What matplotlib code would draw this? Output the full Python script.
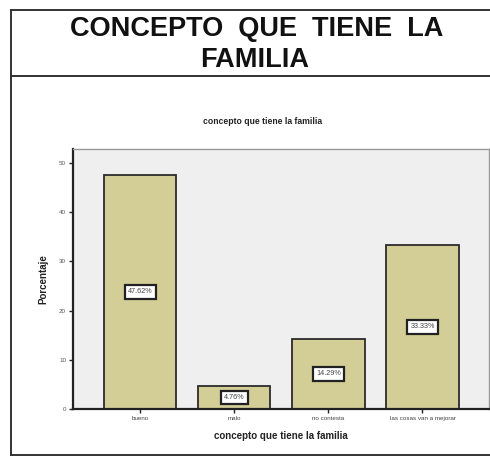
import matplotlib
matplotlib.use("Agg")
import matplotlib.pyplot as plt
from matplotlib.lines import Line2D

categories = ["bueno", "malo", "no contesta", "las cosas van a mejorar"]
percentages = [47.62, 4.76, 14.29, 33.33]
bar_labels = ["47.62%", "4.76%", "14.29%", "33.33%"]
y_ticks = [0, 10, 20, 30, 40, 50]

BAR, EDGE, PLOT_BG = "#d3cd96", "#2b2b2b", "#efefef"

plt.rcParams["font.family"] = ["Liberation Sans", "DejaVu Sans"]

fig = plt.figure(figsize=(4.9, 4.57), dpi=100)
fig.patch.set_facecolor("white")

# outer frame + title divider
L, T, B = 11 / 490, 1 - 10 / 457, 1 - 455 / 457
D = 1 - 76 / 457
for xs, ys in [([L, 1.0], [T, T]), ([L, L], [B, T]), ([L, 1.0], [B, B]), ([L, 1.0], [D, D])]:
    fig.add_artist(Line2D(xs, ys, color="#333333", lw=1.4, transform=fig.transFigure))

# wide word spacing as in the original document heading
fig.text(0.524, 1 - 29 / 457, "CONCEPTO  QUE  TIENE  LA", ha="center", va="center",
         fontsize=19.5, fontweight="bold", color="#111111")
fig.text(0.520, 1 - 60 / 457, "FAMILIA", ha="center", va="center",
         fontsize=19.5, fontweight="bold", color="#111111")
fig.text(0.535, 1 - 122 / 457, "concepto que tiene la familia", ha="center", va="center",
         fontsize=6.2, fontweight="bold", color="#222222")

ax = fig.add_axes([73 / 490, 48 / 457, 416 / 490, 260 / 457])
ax.set_facecolor(PLOT_BG)
x = list(range(len(categories)))
bars = ax.bar(x, percentages, width=0.77, color=BAR, edgecolor=EDGE, linewidth=1.3, zorder=2)
for bar, lab in zip(bars, bar_labels):
    ax.text(bar.get_x() + bar.get_width() / 2, bar.get_height() / 2, lab, ha="center", va="center",
            fontsize=5.2, color="#444444", zorder=3,
            bbox=dict(boxstyle="square,pad=0.45", facecolor="white", edgecolor="#222222", linewidth=1.6))

ax.set_xlim(-0.713, 3.707)
ax.set_ylim(0, 52.8)
ax.set_xticks(x)
ax.set_xticklabels(categories, fontsize=4.5, color="#444444")
ax.set_yticks(y_ticks)
ax.set_yticklabels([str(v) for v in y_ticks], fontsize=4.5, color="#555555")
ax.tick_params(axis="both", length=3, width=1, color="#222222", pad=2)
for s in ["top", "right"]:
    ax.spines[s].set_color("#999999")
    ax.spines[s].set_linewidth(1.0)
for s in ["left", "bottom"]:
    ax.spines[s].set_color("#222222")
    ax.spines[s].set_linewidth(1.6)

ax.set_xlabel("concepto que tiene la familia", fontsize=7, fontweight="bold", color="#222222", labelpad=7)
ax.set_ylabel("Porcentaje", fontsize=7, fontweight="bold", color="#222222", labelpad=8)

fig.savefig("out.png", dpi=100)
